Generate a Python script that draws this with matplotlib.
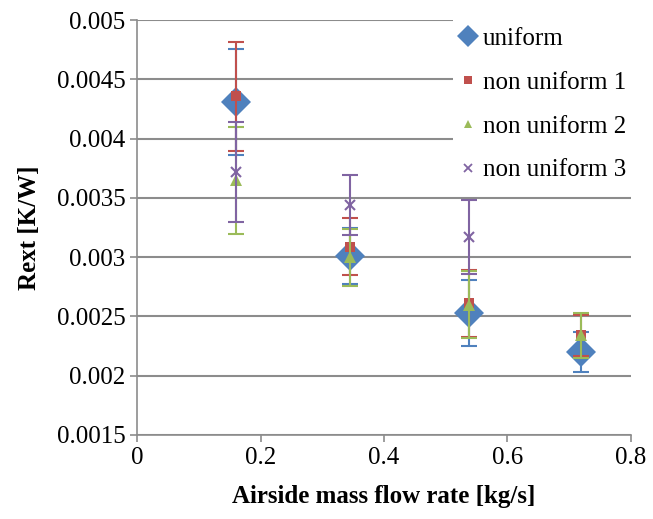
import matplotlib
matplotlib.use("Agg")
import matplotlib.pyplot as plt
from matplotlib.lines import Line2D

# airside mass flow rate [kg/s]
flow = [0.16, 0.345, 0.537, 0.72]

# Rext [K/W] with error bar half widths
uniform = [0.00431, 0.00301, 0.00253, 0.00220]
uniform_err = [0.00045, 0.00024, 0.00028, 0.00017]
non_uniform_1 = [0.00436, 0.00309, 0.00261, 0.00234]
non_uniform_1_err = [0.00046, 0.00024, 0.00028, 0.00017]
non_uniform_2 = [0.00365, 0.00300, 0.00260, 0.00234]
non_uniform_2_err = [0.00045, 0.00024, 0.00028, 0.00019]
flow_3 = [0.16, 0.345, 0.537]
non_uniform_3 = [0.00372, 0.00344, 0.00317]
non_uniform_3_err = [0.00042, 0.00025, 0.00031]

labels = ["uniform", "non uniform 1", "non uniform 2", "non uniform 3"]
colors = ["#4F81BD", "#C0504D", "#9BBB59", "#8064A2"]
xticks = [0, 0.2, 0.4, 0.6, 0.8]
xticklabels = ["0", "0.2", "0.4", "0.6", "0.8"]
yticks = [0.0015, 0.002, 0.0025, 0.003, 0.0035, 0.004, 0.0045, 0.005]
yticklabels = ["0.0015", "0.002", "0.0025", "0.003", "0.0035", "0.004", "0.0045", "0.005"]

plt.rcParams['font.family'] = ['Liberation Serif', 'DejaVu Serif']
plt.rcParams['font.size'] = 18

fig = plt.figure(figsize=(6.53, 5.19), dpi=100)
ax = fig.add_axes([0.21, 0.162, 0.756, 0.799])

series = [
    (flow, uniform, uniform_err, "D", 15),
    (flow, non_uniform_1, non_uniform_1_err, "s", 7),
    (flow, non_uniform_2, non_uniform_2_err, "^", 8),
    (flow_3, non_uniform_3, non_uniform_3_err, "x", 7),
]
for i, (xs, ys, es, m, ms) in enumerate(series):
    ax.errorbar(xs, ys, yerr=es, fmt="none", ecolor=colors[i], elinewidth=1.5,
                capsize=6, capthick=1.5, zorder=3 + 2 * i)
    if m == "x":
        ax.plot(xs, ys, ls="none", marker=m, ms=ms, mew=1.5, color=colors[i], zorder=4 + 2 * i)
    else:
        ax.plot(xs, ys, ls="none", marker=m, ms=ms, mew=0, color=colors[i], zorder=4 + 2 * i)

ax.set_xlim(0, 0.8)
ax.set_ylim(0.0015, 0.005)
ax.set_xticks(xticks)
ax.set_xticklabels(xticklabels, family="Liberation Serif")
ax.set_yticks(yticks)
ax.set_yticklabels(yticklabels, family="Liberation Serif")
ax.yaxis.grid(True, color="#8C8C8C", linewidth=1.5)
ax.set_axisbelow(True)
for s in ["top", "right"]:
    ax.spines[s].set_visible(False)
for s in ["left", "bottom"]:
    ax.spines[s].set_color("#8C8C8C")
    ax.spines[s].set_linewidth(1.2)
ax.tick_params(colors="#8C8C8C", labelcolor="black", length=5, width=1.2)

ax.set_xlabel("Airside mass flow rate [kg/s]", fontweight="bold", labelpad=12)
ax.set_ylabel("Rext [K/W]", fontweight="bold", labelpad=11)

handles = [
    Line2D([], [], ls="none", marker="D", ms=11, mew=0, color=colors[0]),
    Line2D([], [], ls="none", marker="s", ms=6, mew=0, color=colors[1]),
    Line2D([], [], ls="none", marker="^", ms=6, mew=0, color=colors[2]),
    Line2D([], [], ls="none", marker="x", ms=6, mew=1.3, color=colors[3]),
]
leg = ax.legend(handles, labels, loc="upper right", bbox_to_anchor=(1.005, 1.0),
                frameon=True, framealpha=1, edgecolor="none", fancybox=False,
                handlelength=0.6, handletextpad=0.3, labelspacing=0.85,
                borderpad=0.3, borderaxespad=0.0, prop={"family": "Liberation Serif", "size": 18})

fig.savefig("out.png", dpi=100)
